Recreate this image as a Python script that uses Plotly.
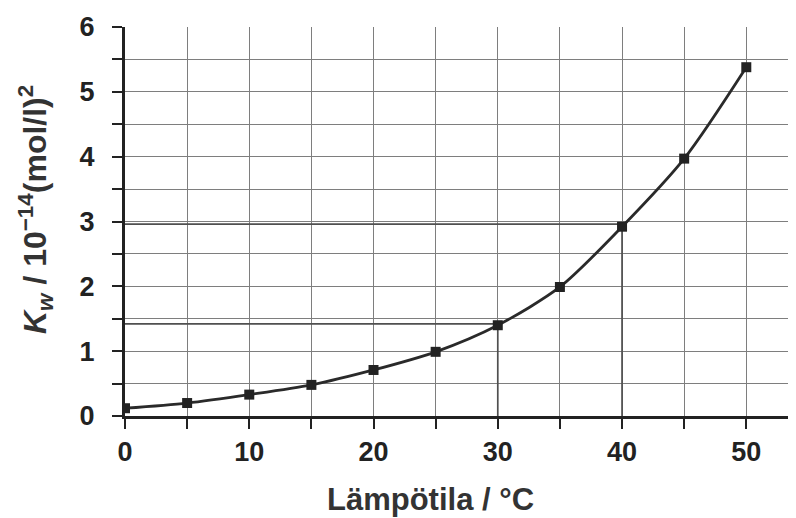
import plotly.graph_objects as go

temps = [0, 5, 10, 15, 20, 25, 30, 35, 40, 45, 50]
kw = [0.12, 0.20, 0.33, 0.48, 0.71, 0.99, 1.40, 1.99, 2.92, 3.97, 5.38]

read_temps = [30, 40]
read_kw = [1.42, 2.96]

x_tick_vals = [0, 10, 20, 30, 40, 50]
y_tick_vals = [0, 1, 2, 3, 4, 5, 6]

x_title = "<b>Lämpötila / °C</b>"
y_title = "<b><i>K</i><sub><i>w</i></sub> / 10<sup>−14</sup>(mol/l)<sup>2</sup></b>"

font_family = "Liberation Sans, Arial, sans-serif"
grid_col = "#7e7e7e"
ink = "#222222"

fig = go.Figure()

for t, k in zip(read_temps, read_kw):
    fig.add_trace(go.Scatter(
        x=[0, t, t], y=[k, k, 0], mode="lines",
        line=dict(color="#505050", width=1.7),
        hoverinfo="skip", showlegend=False,
    ))

fig.add_trace(go.Scatter(
    x=temps, y=kw, mode="lines+markers",
    line=dict(color="#2a2a2a", width=2.8, shape="spline", smoothing=0.8),
    marker=dict(symbol="square", size=10, color=ink),
    showlegend=False,
))

# the page body has an 8px margin, so the figure is drawn 8px in from the corner
OFF = 8
W, H = 796 - OFF, 518 - OFF
L, R, T, B = 125 - OFF, 0, 27 - OFF, 102
pw, ph = W - L - R, H - T - B

fig.update_layout(
    width=W, height=H,
    margin=dict(l=L, r=R, t=T, b=B, autoexpand=False),
    paper_bgcolor="white", plot_bgcolor="white",
    font=dict(family=font_family, color=ink),
    annotations=[
        dict(text=x_title, xref="paper", yref="paper",
             x=(430 - OFF - L) / pw, y=(H - B - (500 - OFF)) / ph, xanchor="center", yanchor="middle",
             showarrow=False, font=dict(size=31, family=font_family, color="#333333")),
        dict(text=y_title, xref="paper", yref="paper", textangle=-90,
             x=(35 - OFF - L) / pw, y=(H - B - (210 - OFF)) / ph, xanchor="center", yanchor="middle",
             showarrow=False, font=dict(size=32, family=font_family, color="#333333")),
    ],
)

tick_common = dict(ticks="outside", ticklen=10, tickwidth=2, tickcolor=ink,
                   showline=True, linecolor=ink, linewidth=3,
                   showgrid=True, gridcolor=grid_col, gridwidth=1.4,
                   zeroline=False, automargin=False,
                   tickfont=dict(size=27, family=font_family, color=ink, weight="bold"))

fig.update_xaxes(
    range=[0, 54], tickvals=x_tick_vals, ticklabelstandoff=0,
    minor=dict(dtick=5, tick0=0, ticks="outside", ticklen=10, tickwidth=2, tickcolor=ink,
               showgrid=True, gridcolor=grid_col, gridwidth=1.4),
    **tick_common,
)

fig.update_yaxes(
    range=[0, 6], tickvals=y_tick_vals, ticklabelstandoff=12,
    minor=dict(dtick=0.5, tick0=0, ticks="outside", ticklen=10, tickwidth=2, tickcolor=ink,
               showgrid=True, gridcolor=grid_col, gridwidth=1.4),
    **tick_common,
)

fig.write_html("out.html")
